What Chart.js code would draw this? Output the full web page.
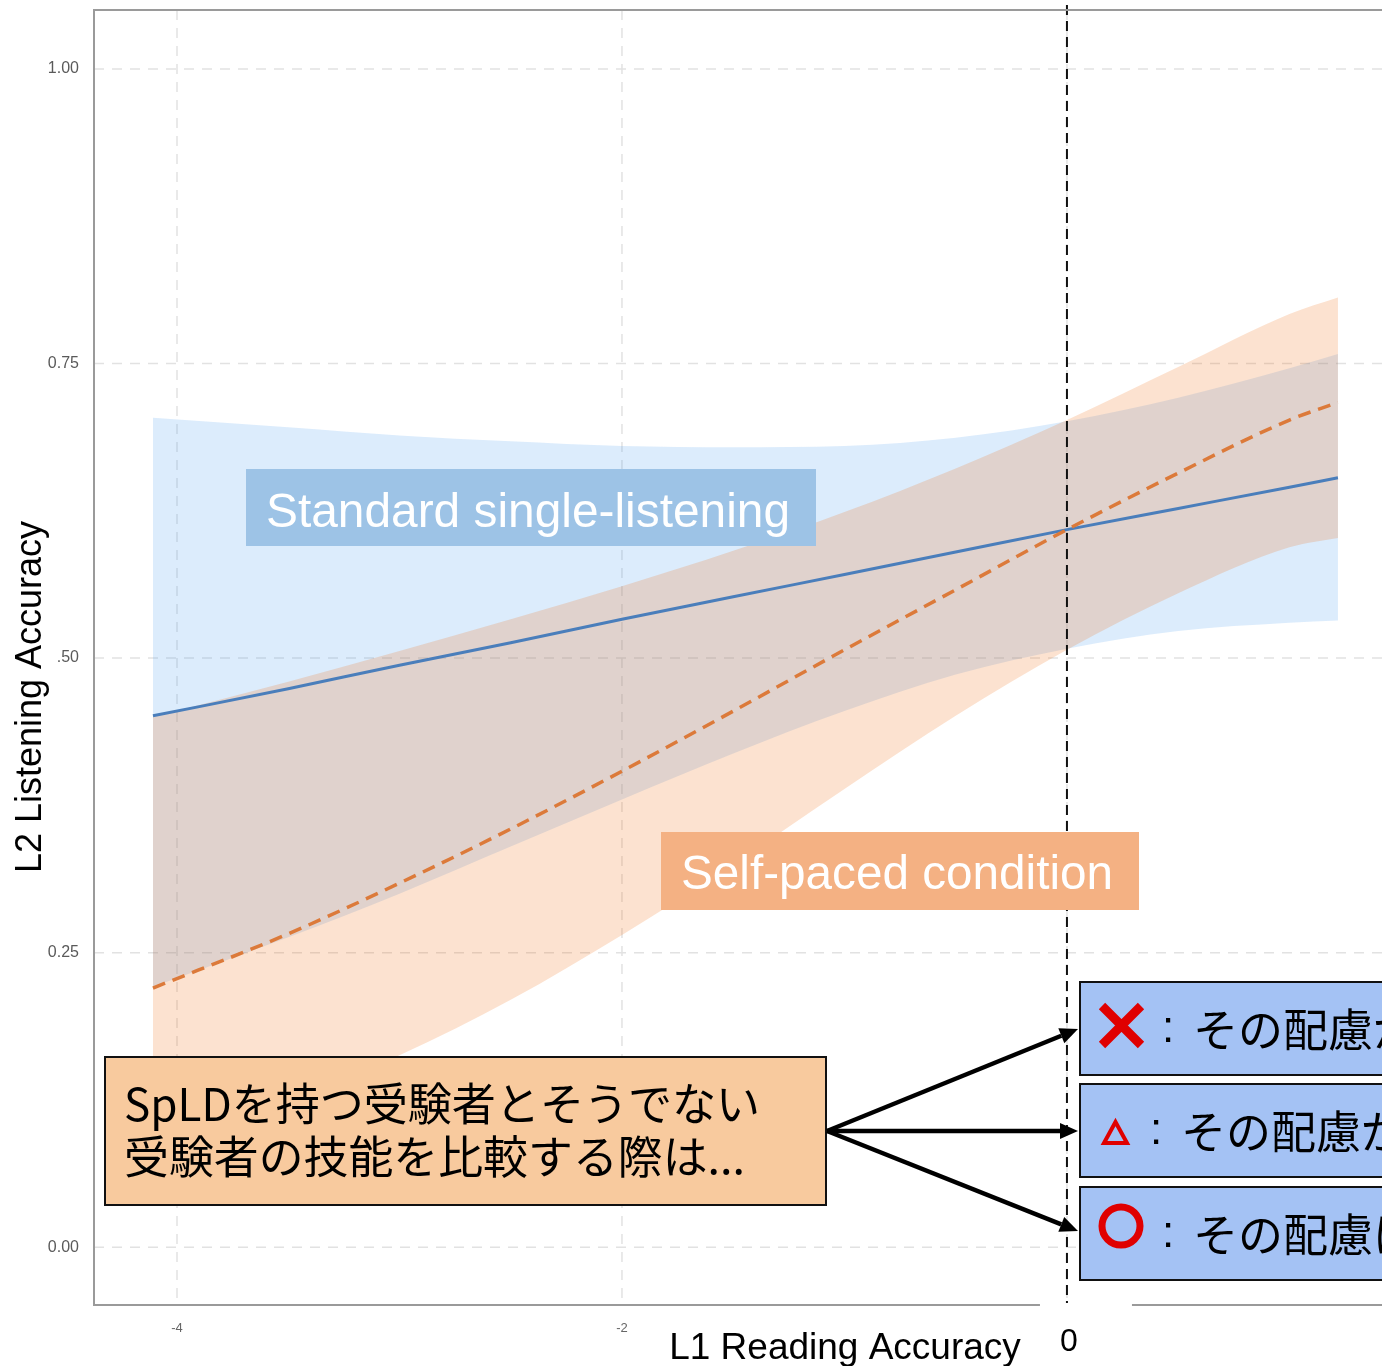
<!DOCTYPE html>
<html lang="ja">
<head>
<meta charset="UTF-8">
<title>L1 Reading Accuracy vs L2 Listening Accuracy</title>
<script src="https://cdn.jsdelivr.net/npm/chart.js"></script>
<style>
    html, body { margin: 0; padding: 0; background: #fff; overflow: hidden; }
    #wrap { width: 1382px; height: 1366px; position: relative; }
</style>
</head>
<body>
<div id="wrap"><canvas id="chart"></canvas></div>
<script>
const readingX = [-4.108, -3.5, -3, -2.5, -2, -1.5, -1, -0.5, 0, 0.5, 1, 1.218];

// Standard single-listening: fitted line and confidence band
const standardFit  = [0.451, 0.474, 0.494, 0.513, 0.533, 0.552, 0.571, 0.590, 0.609, 0.627, 0.645, 0.653];
const standardLow  = [0.221, 0.263, 0.300, 0.340, 0.380, 0.419, 0.455, 0.486, 0.508, 0.523, 0.530, 0.532];
const standardHigh = [0.704, 0.696, 0.689, 0.684, 0.680, 0.679, 0.680, 0.687, 0.701, 0.721, 0.746, 0.758];

// Self-paced condition: fitted line and confidence band
const selfFit  = [0.220, 0.266, 0.309, 0.355, 0.404, 0.455, 0.507, 0.558, 0.609, 0.657, 0.702, 0.717];
const selfLow  = [0.088, 0.125, 0.163, 0.210, 0.265, 0.325, 0.389, 0.451, 0.507, 0.555, 0.594, 0.602];
const selfHigh = [0.450, 0.480, 0.506, 0.533, 0.561, 0.591, 0.624, 0.661, 0.702, 0.747, 0.792, 0.806];

const xTicks = [-4, -2, 0];
const yTicks = [0, 0.25, 0.5, 0.75, 1.0];

const latin = '"Liberation Sans", Arial, sans-serif';
const cjk = '"Noto Sans CJK JP", sans-serif';

function pts(ys) {
    return readingX.map((x, i) => ({ x: x, y: ys[i] }));
}

function arrow(ctx, x1, y1, x2, y2) {
    const a = Math.atan2(y2 - y1, x2 - x1);
    const len = 18, half = 8;
    const bx = x2 - len * Math.cos(a), by = y2 - len * Math.sin(a);
    ctx.beginPath();
    ctx.moveTo(x1, y1);
    ctx.lineTo(bx, by);
    ctx.stroke();
    ctx.beginPath();
    ctx.moveTo(x2, y2);
    ctx.lineTo(bx + half * Math.sin(a), by - half * Math.cos(a));
    ctx.lineTo(bx - half * Math.sin(a), by + half * Math.cos(a));
    ctx.closePath();
    ctx.fill();
}

const decor = {
    id: 'decor',
    beforeDraw(chart) {
        const { ctx, chartArea: a, scales: { x, y } } = chart;
        ctx.save();
        ctx.fillStyle = '#fff';
        ctx.fillRect(0, 0, chart.width, chart.height);
        // dashed panel grid
        ctx.strokeStyle = '#e2e2e2';
        ctx.lineWidth = 1.5;
        ctx.setLineDash([10, 8]);
        y.ticks.forEach(t => {
            const py = y.getPixelForValue(t.value);
            ctx.beginPath(); ctx.moveTo(a.left, py); ctx.lineTo(a.right, py); ctx.stroke();
        });
        x.ticks.forEach(t => {
            const px = x.getPixelForValue(t.value);
            ctx.beginPath(); ctx.moveTo(px, a.top); ctx.lineTo(px, a.bottom); ctx.stroke();
        });
        ctx.restore();
    },
    afterDatasetsDraw(chart) {
        const { ctx, chartArea: a, scales: { x } } = chart;
        const x0 = x.getPixelForValue(0);
        ctx.save();
        // reference line at L1 = 0
        ctx.strokeStyle = '#111';
        ctx.lineWidth = 2;
        ctx.setLineDash([10, 6]);
        ctx.beginPath(); ctx.moveTo(x0, 5); ctx.lineTo(x0, a.bottom - 2); ctx.stroke();
        // panel frame (left, top, bottom)
        ctx.setLineDash([]);
        ctx.strokeStyle = '#9a9a9a';
        ctx.lineWidth = 2;
        ctx.beginPath();
        ctx.moveTo(a.right, a.top); ctx.lineTo(a.left, a.top); ctx.lineTo(a.left, a.bottom); ctx.lineTo(a.right, a.bottom);
        ctx.stroke();
        ctx.restore();
    },
    afterDraw(chart) {
        const { ctx, scales: { x } } = chart;
        const x0 = x.getPixelForValue(0);
        ctx.save();

        // axis titles
        ctx.fillStyle = '#fff';
        ctx.fillRect(6, 505, 51, 385);
        ctx.fillRect(x0 - 27, 1304, 92, 62);
        ctx.fillStyle = '#000';
        ctx.font = '37px ' + latin;
        ctx.textAlign = 'center';
        ctx.textBaseline = 'alphabetic';
        ctx.fillText('L1 Reading Accuracy', 845, 1359, 354);
        ctx.font = '32px ' + latin;
        ctx.fillText('0', x0 + 2, 1351);
        ctx.save();
        ctx.translate(41, 697);
        ctx.rotate(-Math.PI / 2);
        ctx.font = '36px ' + latin;
        ctx.fillText('L2 Listening Accuracy', 0, 0, 361);
        ctx.restore();

        // condition labels
        ctx.textAlign = 'left';
        ctx.font = '48px ' + latin;
        ctx.fillStyle = '#9dc3e6';
        ctx.fillRect(246, 469, 570, 77);
        ctx.fillStyle = '#fff';
        ctx.fillText('Standard single-listening', 266, 527, 524);
        ctx.fillStyle = '#f4b183';
        ctx.fillRect(661, 832, 478, 78);
        ctx.fillStyle = '#fff';
        ctx.fillText('Self-paced condition', 681, 889, 432);

        // question box
        ctx.lineWidth = 2;
        ctx.strokeStyle = '#111';
        ctx.fillStyle = '#f8ca9e';
        ctx.fillRect(105, 1057, 721, 148);
        ctx.strokeRect(105, 1057, 721, 148);
        ctx.fillStyle = '#000';
        ctx.font = '45px ' + cjk;
        ctx.textBaseline = 'middle';
        ctx.fillText('SpLDを持つ受験者とそうでない', 124, 1104, 636);
        ctx.fillText('受験者の技能を比較する際は...', 124, 1157, 621);

        // answer boxes
        const tops = [982, 1084, 1187];
        const texts = ['その配慮が', 'その配慮が', 'その配慮は'];
        tops.forEach((t, i) => {
            ctx.fillStyle = '#a4c2f4';
            ctx.fillRect(1080, t, 320, 93);
            ctx.lineWidth = 2;
            ctx.strokeStyle = '#111';
            ctx.strokeRect(1080, t, 320, 93);
            const cy = t + 46;
            ctx.strokeStyle = '#e00000';
            ctx.fillStyle = '#e00000';
            if (i === 0) {
                ctx.lineWidth = 9;
                ctx.lineCap = 'butt';
                ctx.beginPath();
                ctx.moveTo(1102, cy - 22); ctx.lineTo(1141, cy + 17);
                ctx.moveTo(1141, cy - 22); ctx.lineTo(1102, cy + 17);
                ctx.stroke();
            } else if (i === 1) {
                ctx.lineWidth = 4;
                ctx.beginPath();
                ctx.moveTo(1115.5, cy - 8); ctx.lineTo(1127, cy + 13); ctx.lineTo(1104, cy + 13);
                ctx.closePath();
                ctx.stroke();
            } else {
                ctx.lineWidth = 7;
                ctx.beginPath();
                ctx.arc(1121, cy - 7, 19, 0, Math.PI * 2);
                ctx.stroke();
            }
            const sx = i === 1 ? 1150 : 1162;
            ctx.fillStyle = '#000';
            ctx.font = '44px ' + latin;
            ctx.fillText(':', sx, cy + 2);
            ctx.font = '45px ' + cjk;
            ctx.fillText(texts[i], sx + 31, cy + 2);
        });

        // arrows from the question to the answers
        ctx.strokeStyle = '#000';
        ctx.fillStyle = '#000';
        ctx.lineWidth = 4.5;
        ctx.lineCap = 'butt';
        arrow(ctx, 827, 1131, 1078, 1029);
        arrow(ctx, 827, 1131, 1078, 1131);
        arrow(ctx, 827, 1131, 1078, 1231);
        ctx.restore();
    }
};

const band = (ys, fill, color, order) => ({
    data: pts(ys),
    fill: fill,
    backgroundColor: color,
    borderColor: 'transparent',
    borderWidth: 0,
    pointRadius: 0,
    cubicInterpolationMode: 'monotone',
    order: order
});

new Chart(document.getElementById('chart'), {
    type: 'line',
    data: {
        datasets: [
            band(standardHigh, '+1', 'rgba(80, 160, 240, 0.2)', 3),
            band(standardLow, false, 'transparent', 3),
            band(selfHigh, '+1', 'rgba(240, 110, 20, 0.2)', 2),
            band(selfLow, false, 'transparent', 2),
            {
                label: 'Standard single-listening',
                data: pts(standardFit),
                borderColor: '#4a7ebb',
                borderWidth: 3,
                pointRadius: 0,
                fill: false,
                cubicInterpolationMode: 'monotone',
                order: 1
            },
            {
                label: 'Self-paced condition',
                data: pts(selfFit),
                borderColor: '#dc7a3a',
                borderWidth: 3.5,
                borderDash: [13, 8],
                pointRadius: 0,
                fill: false,
                cubicInterpolationMode: 'monotone',
                order: 0
            }
        ]
    },
    options: {
        responsive: true,
        maintainAspectRatio: false,
        animation: false,
        devicePixelRatio: 1,
        layout: { padding: { top: 10, left: 0, right: 0, bottom: 0 } },
        plugins: { legend: { display: false }, tooltip: { enabled: false } },
        scales: {
            x: {
                type: 'linear',
                min: -4.373,
                max: 1.416,
                afterBuildTicks: s => { s.ticks = xTicks.map(v => ({ value: v })); },
                afterFit: s => { s.height = 61; s.paddingLeft = 0; s.paddingRight = 0; },
                grid: { display: false, drawTicks: false },
                border: { display: false },
                ticks: {
                    padding: 16,
                    color: '#666',
                    font: { size: 13, family: latin },
                    callback: v => (v === 0 ? '' : String(v))
                }
            },
            y: {
                min: -0.049,
                max: 1.050,
                afterBuildTicks: s => { s.ticks = yTicks.map(v => ({ value: v })); },
                afterFit: s => { s.width = 94; s.paddingTop = 0; s.paddingBottom = 0; },
                grid: { display: false, drawTicks: false },
                border: { display: false },
                ticks: {
                    padding: 15,
                    color: '#5a5a5a',
                    font: { size: 16, family: latin },
                    callback: v => Number(v).toFixed(2)
                }
            }
        }
    },
    plugins: [decor]
});
</script>
</body>
</html>
